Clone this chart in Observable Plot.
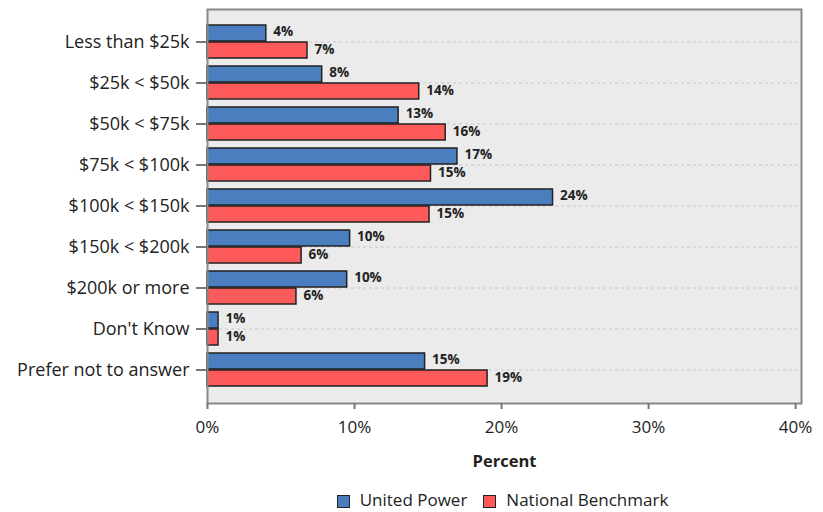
<!DOCTYPE html>
<html>
<head>
<meta charset="utf-8">
<script src="https://cdn.jsdelivr.net/npm/d3@7"></script>
<script src="https://cdn.jsdelivr.net/npm/@observablehq/plot@0.6"></script>
<style>
  body { margin: 0; background: #fff; font-family: "Open Sans", sans-serif; }
  #legend { display: flex; justify-content: center; align-items: center; height: 26px; font-size: 17px; color: #222; padding-left: 182px; }
  .sw { width: 11px; height: 11px; border: 1px solid #222; display: inline-block; margin-right: 10px; margin-top: 5px; }
  .item { display: flex; align-items: center; margin: 0 8px; }
</style>
</head>
<body>
<div id="chart"></div>
<div id="legend"></div>
<script>
const categories = ["Less than $25k", "$25k < $50k", "$50k < $75k", "$75k < $100k", "$100k < $150k", "$150k < $200k", "$200k or more", "Don't Know", "Prefer not to answer"];
const seriesNames = ["United Power", "National Benchmark"];
const unitedPower = [4.0, 7.8, 13.0, 17.0, 23.5, 9.7, 9.5, 0.75, 14.8];
const nationalBenchmark = [6.8, 14.4, 16.2, 15.2, 15.1, 6.4, 6.05, 0.75, 19.05];
const colors = ["#4a7ebf", "#ff5a5a"];
const xTicks = [0, 10, 20, 30, 40];

const up = categories.map((c, i) => ({cat: c, v: unitedPower[i]}));
const nb = categories.map((c, i) => ({cat: c, v: nationalBenchmark[i]}));
const fmt = v => Math.round(v) + "%";

const chart = Plot.plot({
  width: 823,
  height: 486,
  marginLeft: 207,
  marginRight: 22,
  marginTop: 9,
  marginBottom: 83,
  style: {fontFamily: "Open Sans, sans-serif", background: "transparent"},
  x: {domain: [0, 40.4], ticks: xTicks, tickFormat: d => d + "%", label: null},
  y: {domain: categories, paddingInner: 0.19, paddingOuter: 0.286, label: null},
  marks: [
    Plot.frame({fill: "#ebebeb", stroke: null}),
    Plot.ruleY(categories, {y: d => d, stroke: "#c8c8c8", strokeDasharray: "3,3", strokeWidth: 1}),
    Plot.barX(up, {x: "v", y: "cat", fill: colors[0], stroke: "#222", strokeWidth: 1.5, insetBottom: 17}),
    Plot.barX(nb, {x: "v", y: "cat", fill: colors[1], stroke: "#222", strokeWidth: 1.5, insetTop: 17}),
    Plot.text(up, {x: "v", y: "cat", text: d => fmt(d.v), dx: 7, dy: -10, textAnchor: "start", fontWeight: "bold", fontSize: 13.5, fill: "#222"}),
    Plot.text(nb, {x: "v", y: "cat", text: d => fmt(d.v), dx: 7, dy: 8, textAnchor: "start", fontWeight: "bold", fontSize: 13.5, fill: "#222"}),
    Plot.frame({stroke: "#888", strokeWidth: 2}),
    Plot.axisY({tickSize: 11, tickPadding: 7, fontSize: 18, stroke: "#777", strokeWidth: 2, color: "#222", label: null}),
    Plot.axisX({ticks: xTicks, tickFormat: d => d + "%", tickSize: 6, tickPadding: 11, fontSize: 17, stroke: "#777", strokeWidth: 2, color: "#222", label: null}),
    Plot.text(["Percent"], {frameAnchor: "bottom", dy: 63, fontWeight: "bold", fontSize: 16.5, fill: "#222"})
  ]
});
document.getElementById("chart").appendChild(chart);

const legend = document.getElementById("legend");
seriesNames.forEach((name, i) => {
  const item = document.createElement("span");
  item.className = "item";
  const sw = document.createElement("span");
  sw.className = "sw";
  sw.style.background = colors[i];
  item.appendChild(sw);
  item.appendChild(document.createTextNode(name));
  legend.appendChild(item);
});
</script>
</body>
</html>
